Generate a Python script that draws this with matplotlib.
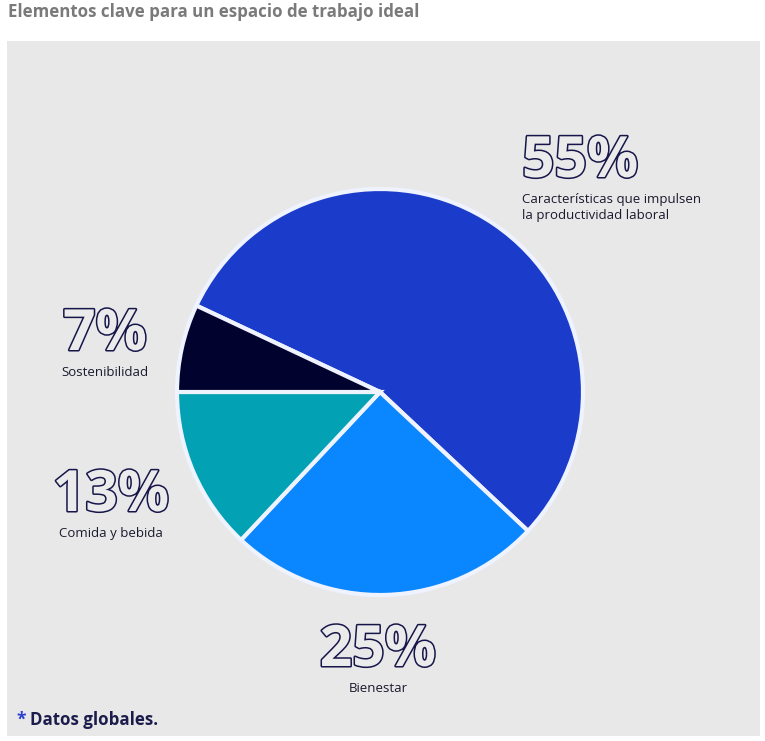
import matplotlib.pyplot as plt
import matplotlib.patheffects as pe
from matplotlib.patches import Rectangle

plt.rcParams['font.family'] = ['Open Sans', 'DejaVu Sans']

# data
labels = ['Características que impulsen\nla productividad laboral', 'Bienestar',
          'Comida y bebida', 'Sostenibilidad']
values = [55, 25, 13, 7]
colors = ['#1b3bcb', '#0a86ff', '#02a2b4', '#02022f']
# label anchor (pixel coords, y from top): big number x, number baseline y, align
label_pos = [(522, 177, 'left'), (378, 666, 'center'), (111, 511, 'center'), (105, 350, 'center')]

W, H = 765, 741
fig = plt.figure(figsize=(W / 100, H / 100), dpi=100)
ax = fig.add_axes([0, 0, 1, 1])

def fy(py):
    return H - py

# gray panel
ax.add_patch(Rectangle((7, fy(736)), 753, 695, facecolor='#e8e8e8', edgecolor='none', zorder=0))

ax.text(8, fy(12), 'Elementos clave para un espacio de trabajo ideal', fontsize=12.2,
        fontweight='bold', color='#7a7a7a', va='center', ha='left')

ax.pie(values, colors=colors, startangle=154.8, counterclock=False,
       center=(380, fy(392)), radius=203,
       wedgeprops=dict(edgecolor='#eef3ff', linewidth=3), frame=True)
ax.set_xlim(0, W)
ax.set_ylim(0, H)
ax.set_aspect('equal')
ax.axis('off')

outline = [pe.withStroke(linewidth=2.2, foreground='#16164a')]
for lab, v, (x, y, ha) in zip(labels, values, label_pos):
    ax.text(x, fy(y), f'{v}%', fontsize=41, fontweight='bold', color='#ebebeb',
            ha=ha, va='baseline', path_effects=outline)
    ax.text(x, fy(y + 16), lab, fontsize=9.5, color='#1a1a2e', ha=ha, va='top',
            linespacing=1.25)

ax.text(16, fy(720), '*', fontsize=12.5, fontweight='bold', color='#2b3fd0', va='center', ha='left')
ax.text(30, fy(720), 'Datos globales.', fontsize=12.2, fontweight='bold', color='#1c1c4c',
        va='center', ha='left')

fig.savefig('out.png', dpi=100)
